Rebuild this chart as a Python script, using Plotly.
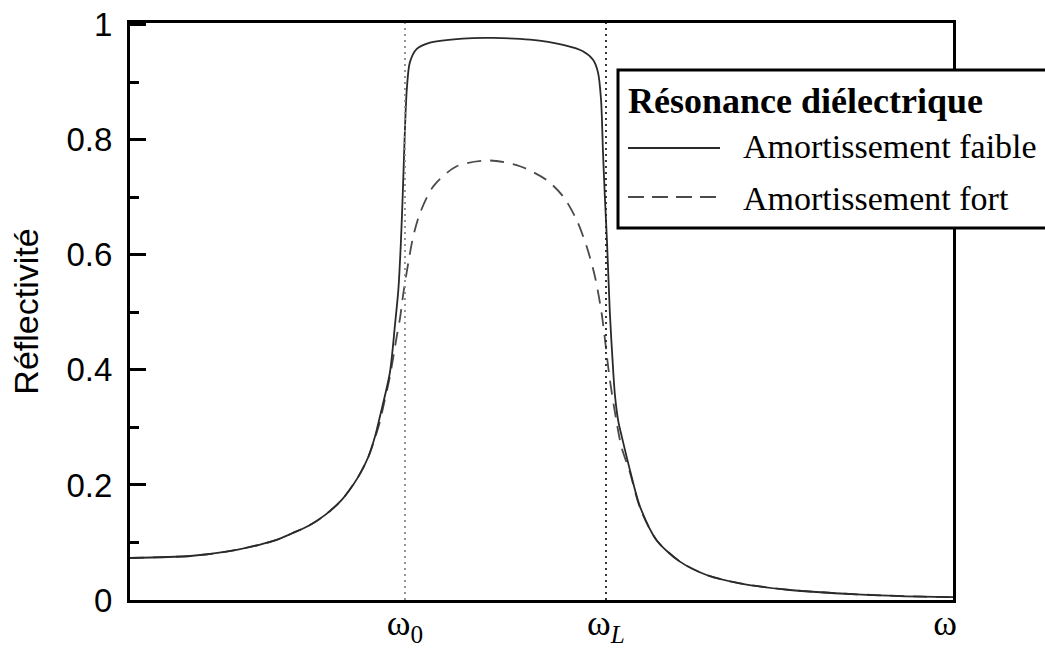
import plotly.graph_objects as go

# Frequency axis in units of omega_0
omega0 = 1.0
omegaL = 1.731
x_end = 2.993
tick_pos = [1.0, 1.731, 2.964]
tick_text = ["ω<sub>0</sub>", "ω<sub><i>L</i></sub>", "ω"]

# Weak damping reflectivity
freq_faible = [0.0, 0.22, 0.35, 0.47, 0.53, 0.59, 0.65, 0.71, 0.77, 0.83, 0.867, 0.891,
               0.909, 0.945, 0.964, 0.976, 0.985, 0.993, 1.0, 1.007, 1.018, 1.043, 1.091,
               1.21, 1.32, 1.455, 1.575, 1.647, 1.684, 1.702, 1.713, 1.72, 1.727, 1.735,
               1.745, 1.757, 1.764, 1.776, 1.788, 1.818, 1.855, 1.915, 2.0, 2.097, 2.218,
               2.4, 2.643, 2.885, 2.993]
refl_faible = [0.073, 0.0765, 0.084, 0.096, 0.104, 0.116, 0.129, 0.148, 0.174, 0.214, 0.249,
               0.284, 0.319, 0.395, 0.48, 0.54, 0.62, 0.72, 0.82, 0.89, 0.935, 0.958, 0.969,
               0.976, 0.977, 0.974, 0.965, 0.954, 0.939, 0.917, 0.87, 0.78, 0.70, 0.62,
               0.50, 0.40, 0.354, 0.31, 0.285, 0.226, 0.162, 0.104, 0.0667, 0.0435, 0.029,
               0.0174, 0.0099, 0.0057, 0.005]

# Strong damping reflectivity
freq_fort = [0.0, 0.22, 0.35, 0.47, 0.53, 0.59, 0.65, 0.71, 0.77, 0.83, 0.867, 0.891,
             0.909, 0.921, 0.945, 0.97, 0.982, 0.994, 1.012, 1.03, 1.055, 1.103, 1.188,
             1.309, 1.418, 1.515, 1.576, 1.624, 1.661, 1.691, 1.715, 1.745, 1.77, 1.788,
             1.818, 1.855, 1.915, 2.0, 2.097, 2.218, 2.4, 2.643, 2.885, 2.993]
refl_fort = [0.073, 0.0765, 0.084, 0.096, 0.104, 0.116, 0.129, 0.148, 0.174, 0.214, 0.249,
             0.282, 0.31, 0.336, 0.388, 0.458, 0.49, 0.533, 0.586, 0.632, 0.673, 0.719,
             0.754, 0.764, 0.754, 0.73, 0.701, 0.661, 0.614, 0.562, 0.499, 0.383, 0.308,
             0.265, 0.222, 0.16, 0.104, 0.0667, 0.0435, 0.029, 0.0174, 0.0099, 0.0057, 0.005]

y_ticks = [0, 0.2, 0.4, 0.6, 0.8, 1]
y_ticktext = ["0", "0.2", "0.4", "0.6", "0.8", "1"]
y_minor = [0.1, 0.3, 0.5, 0.7, 0.9]

legend_title = "Résonance diélectrique"
legend_labels = ["Amortissement faible", "Amortissement fort"]

W, H = 1045, 649
L, R, T, B = 130, 92, 23, 49
pw, ph = W - L - R, H - T - B


def px(xp):
    return (xp - L) / pw


def py(yp):
    return (H - B - yp) / ph


fig = go.Figure()
fig.add_trace(go.Scatter(x=freq_fort, y=refl_fort, mode="lines",
                         line=dict(color="#4a4a4a", width=1.8, dash="14px,9px",
                                   shape="spline", smoothing=0.8),
                         showlegend=False, hoverinfo="skip"))
fig.add_trace(go.Scatter(x=freq_faible, y=refl_faible, mode="lines",
                         line=dict(color="#2a2a2a", width=1.8,
                                   shape="spline", smoothing=0.8),
                         showlegend=False, hoverinfo="skip"))

# Reference lines at omega_0 and omega_L
fig.add_shape(type="line", xref="x", yref="paper", x0=omega0, x1=omega0, y0=0, y1=1,
              line=dict(color="#8a8a8a", width=1.8, dash="2px,4px"))
fig.add_shape(type="line", xref="x", yref="paper", x0=omegaL, x1=omegaL, y0=0, y1=1,
              line=dict(color="#222222", width=1.8, dash="2px,4px"))

# Legend box drawn by hand
fig.add_shape(type="rect", xref="paper", yref="paper",
              x0=px(618), x1=px(1070), y0=py(228), y1=py(70),
              line=dict(color="black", width=3), fillcolor="white", layer="above")
fig.add_shape(type="line", xref="paper", yref="paper",
              x0=px(628), x1=px(720), y0=py(148), y1=py(148),
              line=dict(color="#2a2a2a", width=1.8), layer="above")
fig.add_shape(type="line", xref="paper", yref="paper",
              x0=px(628), x1=px(722), y0=py(197), y1=py(197),
              line=dict(color="#4a4a4a", width=1.8, dash="16px,8px"), layer="above")
fig.add_annotation(xref="paper", yref="paper", x=px(626), y=py(101),
                   text="<b>" + legend_title + "</b>", showarrow=False,
                   xanchor="left", yanchor="middle",
                   font=dict(family="Liberation Serif", size=36, color="black"))
for lab, yp in zip(legend_labels, [147, 198]):
    fig.add_annotation(xref="paper", yref="paper", x=px(741), y=py(yp),
                       text=lab, showarrow=False, xanchor="left", yanchor="middle",
                       font=dict(family="Liberation Serif", size=34, color="black"))

fig.update_layout(
    width=W, height=H,
    margin=dict(l=L, r=R, t=T, b=B, autoexpand=False),
    paper_bgcolor="white", plot_bgcolor="white",
    showlegend=False,
)
fig.update_xaxes(
    range=[0, x_end], showgrid=False, zeroline=False,
    showline=True, linecolor="black", linewidth=3, mirror=True,
    ticks="", tickvals=tick_pos, ticktext=tick_text, ticklabelstandoff=-11,
    tickfont=dict(family="Liberation Serif", size=36, color="black"),
)
fig.update_yaxes(
    range=[0, 1.003], showgrid=False, zeroline=False,
    showline=True, linecolor="black", linewidth=3, mirror=True,
    ticks="inside", ticklen=16, tickwidth=2.5, tickcolor="black",
    tickvals=y_ticks, ticktext=y_ticktext, ticklabelstandoff=8,
    minor=dict(ticks="inside", ticklen=9, tickwidth=2.5, tickcolor="black",
               tickvals=y_minor),
    tickfont=dict(family="Liberation Sans", size=33, color="black"),
    title=dict(text="Réflectivité", standoff=18,
               font=dict(family="Liberation Sans", size=34, color="black")),
)

fig.write_html("out.html")
